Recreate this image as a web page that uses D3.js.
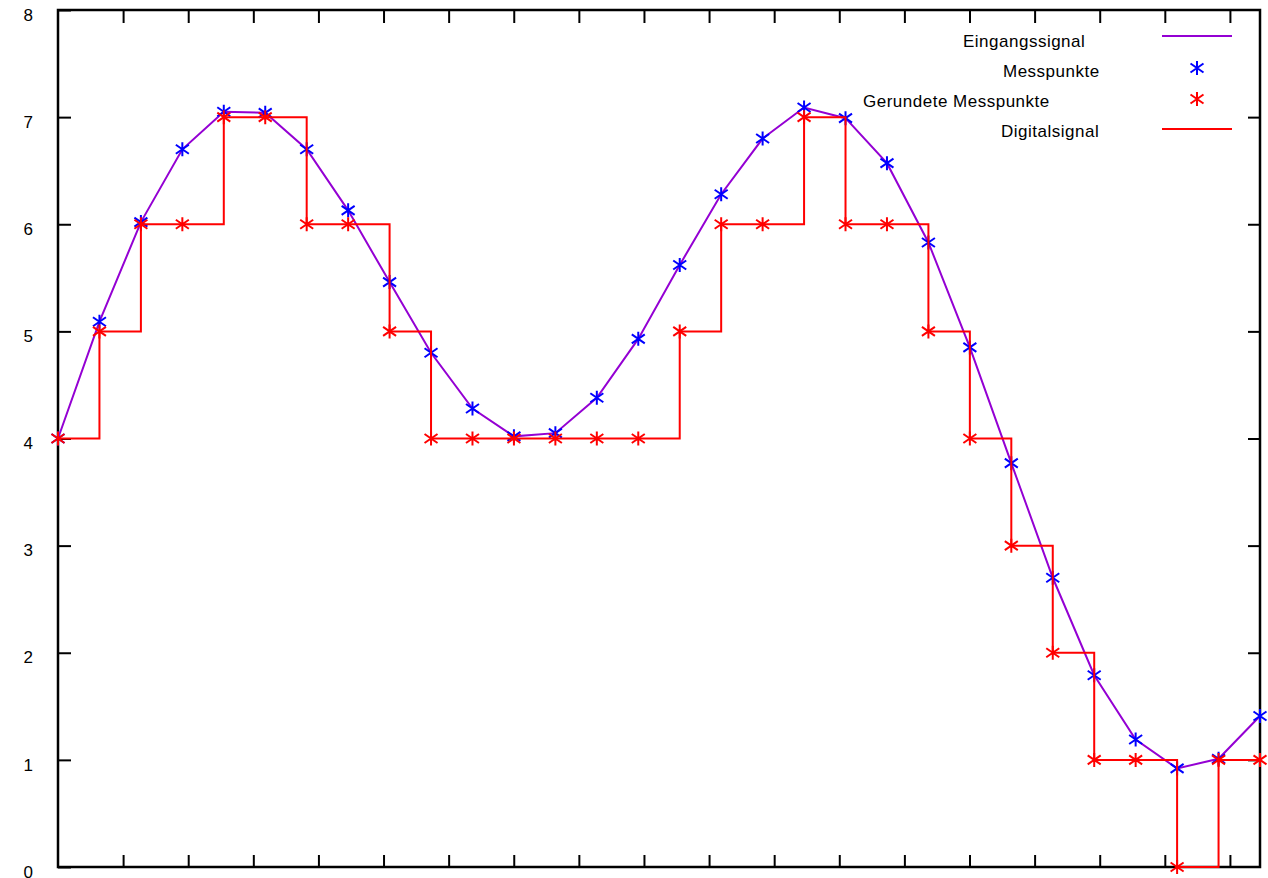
<!DOCTYPE html>
<html>
<head>
<meta charset="utf-8">
<script src="https://cdn.jsdelivr.net/npm/d3@7"></script>
<style>
  html, body { margin: 0; padding: 0; background: #fff; }
  svg { display: block; }
  text { font-family: "Liberation Sans", Arial, sans-serif; font-size: 17px; fill: #000; }
</style>
</head>
<body>
<svg id="chart" width="1268" height="878"></svg>
<script>
// ---- data ----
// measured samples of the input signal (sample index 0..29)
const messpunkte = [4.00, 5.09, 6.02, 6.70, 7.05, 7.04, 6.70, 6.13, 5.46, 4.80,
                    4.28, 4.02, 4.05, 4.38, 4.93, 5.62, 6.28, 6.80, 7.09, 6.99,
                    6.57, 5.83, 4.85, 3.77, 2.70, 1.79, 1.19, 0.92, 1.01, 1.41];
// quantised (rounded down) samples
const gerundet = [4, 5, 6, 6, 7, 7, 6, 6, 5, 4,
                  4, 4, 4, 4, 4, 5, 6, 6, 7, 6,
                  6, 5, 4, 3, 2, 1, 1, 0, 1, 1];
const yTickValues = [0, 1, 2, 3, 4, 5, 6, 7, 8];
const xTickValues = d3.range(1, 19).map(k => k * Math.PI / 2);
const legendLabels = ["Eingangssignal", "Messpunkte", "Gerundete Messpunkte", "Digitalsignal"];

// ---- layout ----
const svg = d3.select("#chart");
const L = 58, R = 1260, T = 10, B = 867;
const x = d3.scaleLinear().domain([0, messpunkte.length - 1]).range([L, R]);
const y = d3.scaleLinear().domain([0, 8]).range([B, T]);

const PURPLE = "#9400d3", BLUE = "#0000ff", RED = "#ff0000";

// axes
const axisStyle = g => {
  g.select(".domain").remove();
  g.selectAll(".tick line").attr("stroke", "#000").attr("stroke-width", 2);
};
svg.append("g").attr("transform", `translate(${L},0)`)
  .call(d3.axisLeft(y).tickValues(yTickValues).tickSizeInner(-13).tickSizeOuter(0).tickPadding(25).tickFormat(d3.format("d")))
  .call(axisStyle)
  .call(g => g.selectAll(".tick text").attr("font-size", 17).attr("font-family", "Liberation Sans, Arial, sans-serif")
     .attr("fill", "#000").attr("dy", "0.36em").attr("x", -25).attr("transform", "translate(0,4)"));
svg.append("g").attr("transform", `translate(${R},0)`)
  .call(d3.axisRight(y).tickValues(yTickValues.slice(1, -1)).tickSizeInner(-12).tickSizeOuter(0).tickFormat(""))
  .call(axisStyle);
svg.append("g").attr("transform", `translate(0,${B})`)
  .call(d3.axisBottom(x).tickValues(xTickValues).tickSizeInner(-12).tickSizeOuter(0).tickFormat(""))
  .call(axisStyle);
svg.append("g").attr("transform", `translate(0,${T})`)
  .call(d3.axisTop(x).tickValues(xTickValues).tickSizeInner(-13).tickSizeOuter(0).tickFormat(""))
  .call(axisStyle);

// border
svg.append("rect").attr("x", L).attr("y", T).attr("width", R - L).attr("height", B - T)
  .attr("fill", "none").attr("stroke", "#000").attr("stroke-width", 2.5);

// asterisk marker path (vertical bar + X)
const star = "M0,-7L0,7M-6.5,-4.5L6.5,4.5M-6.5,4.5L6.5,-4.5";

// Eingangssignal
svg.append("path").datum(messpunkte)
  .attr("d", d3.line().x((d, i) => x(i)).y(d => y(d)))
  .attr("fill", "none").attr("stroke", PURPLE).attr("stroke-width", 2);

// Messpunkte
svg.append("g").selectAll("path").data(messpunkte).join("path")
  .attr("transform", (d, i) => `translate(${x(i)},${y(d)})`)
  .attr("d", star).attr("stroke", BLUE).attr("stroke-width", 2).attr("fill", "none");

// Gerundete Messpunkte
svg.append("g").selectAll("path").data(gerundet).join("path")
  .attr("transform", (d, i) => `translate(${x(i)},${y(d)})`)
  .attr("d", star).attr("stroke", RED).attr("stroke-width", 2).attr("fill", "none");

// Digitalsignal
svg.append("path").datum(gerundet)
  .attr("d", d3.line().x((d, i) => x(i)).y(d => y(d)).curve(d3.curveStepAfter))
  .attr("fill", "none").attr("stroke", RED).attr("stroke-width", 2);

// legend
const legendTextX = [963, 1003, 863, 1001];
const legendBase = [47, 77, 107, 137];
const lg = svg.append("g");
legendLabels.forEach((t, i) => {
  lg.append("text").attr("x", legendTextX[i]).attr("y", legendBase[i])
    .attr("letter-spacing", "0.5px").text(t);
});
lg.append("line").attr("x1", 1162).attr("x2", 1232).attr("y1", 36).attr("y2", 36)
  .attr("stroke", PURPLE).attr("stroke-width", 2);
lg.append("path").attr("transform", "translate(1197,68)").attr("d", star)
  .attr("stroke", BLUE).attr("stroke-width", 2);
lg.append("path").attr("transform", "translate(1197,99)").attr("d", star)
  .attr("stroke", RED).attr("stroke-width", 2);
lg.append("line").attr("x1", 1162).attr("x2", 1232).attr("y1", 129).attr("y2", 129)
  .attr("stroke", RED).attr("stroke-width", 2);
</script>
</body>
</html>
